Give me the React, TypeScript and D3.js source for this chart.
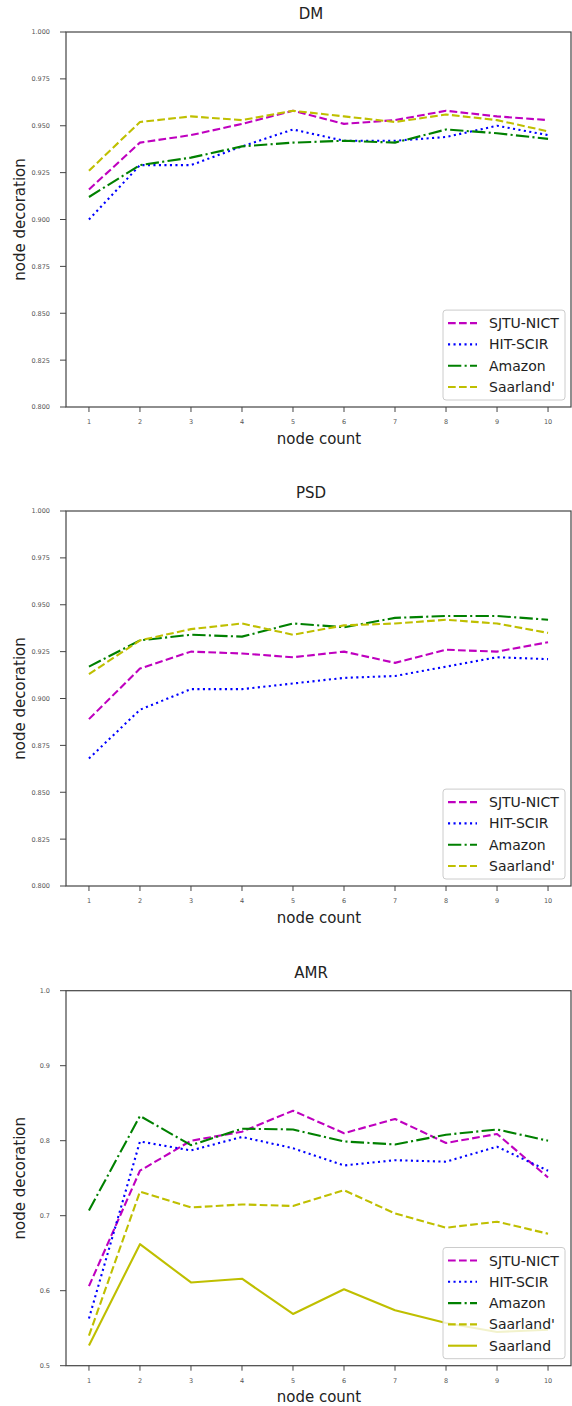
import * as d3 from 'd3'
import { useEffect, useRef } from 'react'

// node count on the x axis
const nodeCounts = [1, 2, 3, 4, 5, 6, 7, 8, 9, 10]

// DM
const dmSjtu = [0.916, 0.941, 0.945, 0.951, 0.958, 0.951, 0.953, 0.958, 0.955, 0.953]
const dmHit = [0.9, 0.929, 0.929, 0.939, 0.948, 0.942, 0.942, 0.944, 0.95, 0.945]
const dmAmazon = [0.912, 0.929, 0.933, 0.939, 0.941, 0.942, 0.941, 0.948, 0.946, 0.943]
const dmSaarlandP = [0.926, 0.952, 0.955, 0.953, 0.958, 0.955, 0.952, 0.956, 0.953, 0.947]

// PSD
const psdSjtu = [0.889, 0.916, 0.925, 0.924, 0.922, 0.925, 0.919, 0.926, 0.925, 0.93]
const psdHit = [0.868, 0.894, 0.905, 0.905, 0.908, 0.911, 0.912, 0.917, 0.922, 0.921]
const psdAmazon = [0.917, 0.931, 0.934, 0.933, 0.94, 0.938, 0.943, 0.944, 0.944, 0.942]
const psdSaarlandP = [0.913, 0.931, 0.937, 0.94, 0.934, 0.939, 0.94, 0.942, 0.94, 0.935]

// AMR
const amrSjtu = [0.606, 0.76, 0.8, 0.812, 0.84, 0.81, 0.829, 0.797, 0.809, 0.751]
const amrHit = [0.563, 0.799, 0.787, 0.805, 0.79, 0.767, 0.774, 0.772, 0.792, 0.76]
const amrAmazon = [0.707, 0.833, 0.794, 0.816, 0.815, 0.799, 0.795, 0.808, 0.815, 0.8]
const amrSaarlandP = [0.54, 0.732, 0.711, 0.715, 0.713, 0.734, 0.703, 0.684, 0.692, 0.676]
const amrSaarland = [0.527, 0.662, 0.611, 0.616, 0.569, 0.602, 0.574, 0.557, 0.545, 0.548]

const fineTicks = [0.8, 0.825, 0.85, 0.875, 0.9, 0.925, 0.95, 0.975, 1.0]
const coarseTicks = [0.5, 0.6, 0.7, 0.8, 0.9, 1.0]

const styles = {
    'SJTU-NICT': { color: '#bf00bf', dash: '7.7,3.3' },
    'HIT-SCIR': { color: '#0000ff', dash: '2.1,3.4' },
    Amazon: { color: '#008000', dash: '13.3,3.3,2.1,3.3' },
    "Saarland'": { color: '#bfbf00', dash: '7.7,3.3' },
    Saarland: { color: '#bfbf00', dash: null },
}

const panels = [
    {
        title: 'DM',
        domain: [0.8, 1.0],
        ticks: fineTicks,
        fmt: '.3f',
        series: [
            ['SJTU-NICT', dmSjtu],
            ['HIT-SCIR', dmHit],
            ['Amazon', dmAmazon],
            ["Saarland'", dmSaarlandP],
        ],
    },
    {
        title: 'PSD',
        domain: [0.8, 1.0],
        ticks: fineTicks,
        fmt: '.3f',
        series: [
            ['SJTU-NICT', psdSjtu],
            ['HIT-SCIR', psdHit],
            ['Amazon', psdAmazon],
            ["Saarland'", psdSaarlandP],
        ],
    },
    {
        title: 'AMR',
        domain: [0.5, 1.0],
        ticks: coarseTicks,
        fmt: '.1f',
        series: [
            ['SJTU-NICT', amrSjtu],
            ['HIT-SCIR', amrHit],
            ['Amazon', amrAmazon],
            ["Saarland'", amrSaarlandP],
            ['Saarland', amrSaarland],
        ],
    },
]

const FONT = 'DejaVu Sans, sans-serif'
const left = 66
const right = 571
const plotH = 375
const tops = [32, 511, 990.7]

function App() {
    const ref = useRef<SVGSVGElement>(null)

    useEffect(() => {
        document.body.style.margin = '0'
        const svg = d3.select(ref.current)
        svg.selectAll('*').remove()

        const x = d3.scaleLinear().domain([0.55, 10.45]).range([left, right])

        panels.forEach((p, pi) => {
            const top = tops[pi]
            const bottom = top + plotH
            const y = d3.scaleLinear().domain(p.domain).range([bottom, top])
            const g = svg.append('g')

            // lines
            const line = d3
                .line<number>()
                .x((d, i) => x(nodeCounts[i]))
                .y((d) => y(d))

            p.series.forEach(([name, vals]) => {
                const s = styles[name]
                g.append('path')
                    .attr('d', line(vals))
                    .attr('fill', 'none')
                    .attr('stroke', s.color)
                    .attr('stroke-width', 2.1)
                    .attr('stroke-dasharray', s.dash)
                    .attr('stroke-linejoin', 'round')
            })

            // frame
            g.append('rect')
                .attr('x', left)
                .attr('y', top)
                .attr('width', right - left)
                .attr('height', plotH)
                .attr('fill', 'none')
                .attr('stroke', '#444')
                .attr('stroke-width', 1.2)

            // y ticks
            const fmt = d3.format(p.fmt)
            p.ticks.forEach((t) => {
                g.append('line')
                    .attr('x1', left - 6)
                    .attr('x2', left)
                    .attr('y1', y(t))
                    .attr('y2', y(t))
                    .attr('stroke', '#444')
                    .attr('stroke-width', 1)
                g.append('text')
                    .attr('x', 50)
                    .attr('y', y(t) + 2.4)
                    .attr('text-anchor', 'end')
                    .attr('font-family', FONT)
                    .attr('font-size', 6.5)
                    .attr('fill', '#555')
                    .text(fmt(t))
            })

            // x ticks
            nodeCounts.forEach((n) => {
                g.append('line')
                    .attr('x1', x(n))
                    .attr('x2', x(n))
                    .attr('y1', bottom)
                    .attr('y2', bottom + 5)
                    .attr('stroke', '#444')
                    .attr('stroke-width', 1)
                g.append('text')
                    .attr('x', x(n))
                    .attr('y', bottom + 17)
                    .attr('text-anchor', 'middle')
                    .attr('font-family', FONT)
                    .attr('font-size', 6.5)
                    .attr('fill', '#555')
                    .text(n)
            })

            // title and axis labels
            g.append('text')
                .attr('x', 311)
                .attr('y', top - 12.7)
                .attr('text-anchor', 'middle')
                .attr('font-family', FONT)
                .attr('font-size', 15)
                .attr('fill', '#222')
                .text(p.title)

            g.append('text')
                .attr('x', 319)
                .attr('y', bottom + 36.7)
                .attr('text-anchor', 'middle')
                .attr('font-family', FONT)
                .attr('font-size', 15)
                .attr('fill', '#222')
                .text('node count')

            g.append('text')
                .attr('transform', `translate(25, ${(top + bottom) / 2}) rotate(-90)`)
                .attr('text-anchor', 'middle')
                .attr('font-family', FONT)
                .attr('font-size', 15)
                .attr('fill', '#222')
                .text('node decoration')

            // legend
            const n = p.series.length
            const boxH = 26 + (n - 1) * 21.3
            const boxTop = bottom - 7 - boxH
            const lg = g.append('g')
            lg.append('rect')
                .attr('x', 443)
                .attr('y', boxTop)
                .attr('width', 122)
                .attr('height', boxH)
                .attr('rx', 3)
                .attr('fill', 'white')
                .attr('fill-opacity', 0.8)
                .attr('stroke', '#ccc')
                .attr('stroke-width', 1)

            p.series.forEach(([name], i) => {
                const s = styles[name]
                const cy = boxTop + 13 + i * 21.3
                lg.append('line')
                    .attr('x1', 448)
                    .attr('x2', 477)
                    .attr('y1', cy)
                    .attr('y2', cy)
                    .attr('stroke', s.color)
                    .attr('stroke-width', 2.1)
                    .attr('stroke-dasharray', s.dash)
                lg.append('text')
                    .attr('x', 489)
                    .attr('y', cy + 5)
                    .attr('font-family', FONT)
                    .attr('font-size', 14)
                    .attr('fill', '#222')
                    .text(name)
            })
        })
    }, [])

    return <svg ref={ref} width={572} height={1406} style={{ display: 'block', background: 'white' }} />
}

export default App
